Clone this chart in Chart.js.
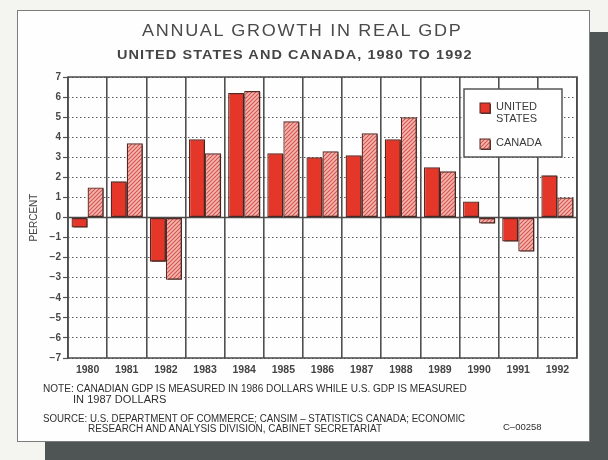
<!DOCTYPE html>
<html>
<head>
<meta charset="utf-8">
<script src="https://cdn.jsdelivr.net/npm/chart.js@4.4.1/dist/chart.umd.min.js"></script>
<style>
  html, body { margin: 0; padding: 0; background: #f4f4f1; }
  #wrap { position: relative; width: 608px; height: 460px; overflow: hidden;
          font-family: "Liberation Sans", Arial, sans-serif; }
  .shadow-r { position: absolute; left: 589px; top: 32px; width: 19px; height: 428px; background: #4f5554; }
  .shadow-b { position: absolute; left: 45px; top: 441px; width: 563px; height: 19px; background: #4f5554; }
  .paper { position: absolute; left: 17px; top: 10px; width: 571px; height: 430px;
           background: #fefefe; border: 1px solid #7c7c7c; }
  canvas { position: absolute; left: 0; top: 0; }
  .t { position: absolute; white-space: nowrap; color: #333; line-height: 1;
       transform-origin: 0 0; }
  .title { font-size: 16px; letter-spacing: 1.5px; color: #4a4a4a; }
  .sub { font-size: 13.5px; font-weight: bold; letter-spacing: 1px; color: #454545; }
  .note { font-size: 10px; color: #2e2e2e; }
</style>
</head>
<body>
<div id="wrap">
  <div class="shadow-r"></div>
  <div class="shadow-b"></div>
  <div class="paper"></div>
  <canvas id="c" width="608" height="460"></canvas>

  <div class="t title" data-x="142" data-y="22.5" data-w="320">ANNUAL GROWTH IN REAL GDP</div>
  <div class="t sub" data-x="117" data-y="48" data-w="356">UNITED STATES AND CANADA, 1980 TO 1992</div>

  <div class="t note" data-x="43" data-y="383.5" data-w="424">NOTE: CANADIAN GDP IS MEASURED IN 1986 DOLLARS WHILE U.S. GDP IS MEASURED</div>
  <div class="t note" data-x="73" data-y="394.5" data-w="94">IN 1987 DOLLARS</div>
  <div class="t note" data-x="43" data-y="413.5" data-w="422">SOURCE: U.S. DEPARTMENT OF COMMERCE; CANSIM – STATISTICS CANADA; ECONOMIC</div>
  <div class="t note" data-x="88" data-y="423.5" data-w="294">RESEARCH AND ANALYSIS DIVISION, CABINET SECRETARIAT</div>
  <div class="t note" data-x="503" data-y="423" data-w="39" style="font-size:9px">C–00258</div>
</div>

<script>
// Annual real GDP growth, percent
const years = ['1980', '1981', '1982', '1983', '1984', '1985', '1986',
               '1987', '1988', '1989', '1990', '1991', '1992'];
const usGrowth     = [-0.5, 1.8, -2.2, 3.9, 6.2, 3.2, 3.0, 3.1, 3.9, 2.5, 0.8, -1.2, 2.1];
const canadaGrowth = [ 1.5, 3.7, -3.1, 3.2, 6.3, 4.8, 3.3, 4.2, 5.0, 2.3, -0.3, -1.7, 1.0];
const seriesNames  = [['UNITED', 'STATES'], ['CANADA']];
const yMin = -7, yMax = 7, yStep = 1;

// place the text blocks and squeeze each one to its set width
document.querySelectorAll('.t').forEach(el => {
  el.style.left = el.dataset.x + 'px';
  el.style.top = el.dataset.y + 'px';
  const w = +el.dataset.w;
  el.style.transform = 'scaleX(' + (w / el.offsetWidth) + ')';
});

const canvas = document.getElementById('c');
const ctx = canvas.getContext('2d');

// pink fill with red diagonal hatching
function hatchPattern() {
  const p = document.createElement('canvas');
  p.width = 4; p.height = 4;
  const g = p.getContext('2d');
  g.fillStyle = '#f3b7b2';
  g.fillRect(0, 0, 4, 4);
  g.strokeStyle = '#d8524c';
  g.lineWidth = 1.1;
  g.beginPath();
  g.moveTo(0, 4); g.lineTo(4, 0);
  g.moveTo(-1, 1); g.lineTo(1, -1);
  g.moveTo(3, 5); g.lineTo(5, 3);
  g.stroke();
  return ctx.createPattern(p, 'repeat');
}

const usRed = '#e5362a';
const edge = '#552823';
const canadaFill = hatchPattern();
const tickFont = { family: '"Liberation Sans", Arial, sans-serif', size: 10, weight: 'bold' };

// drop shadow to the lower right of every bar
const barShadow = {
  id: 'barShadow',
  beforeDatasetDraw(chart) {
    const c = chart.ctx;
    c.save();
    c.shadowColor = 'rgba(70,38,32,0.9)';
    c.shadowOffsetX = 2;
    c.shadowOffsetY = 1;
    c.shadowBlur = 0;
  },
  afterDatasetDraw(chart) { chart.ctx.restore(); }
};

// zero line, plot frame and the boxed legend
const frame = {
  id: 'frame',
  beforeDatasetsDraw(chart) {
    const c = chart.ctx, a = chart.chartArea, y0 = chart.scales.y.getPixelForValue(0);
    c.save();
    c.strokeStyle = '#4a4a4a';
    c.lineWidth = 1.5;
    c.beginPath(); c.moveTo(a.left, y0); c.lineTo(a.right, y0); c.stroke();
    c.restore();
  },
  afterDatasetsDraw(chart) {
    const c = chart.ctx, a = chart.chartArea;
    c.save();
    c.strokeStyle = '#4a4a4a';
    c.lineWidth = 1.5;
    c.strokeRect(a.left, a.top, a.right - a.left, a.bottom - a.top);
    c.restore();
  },
  afterDraw(chart) {
    const c = chart.ctx, a = chart.chartArea;
    const bx = a.right - 113, by = a.top + 12, bw = 98, bh = 68;
    c.save();
    c.fillStyle = '#ffffff';
    c.fillRect(bx, by, bw, bh);
    c.strokeStyle = '#555';
    c.lineWidth = 1.5;
    c.strokeRect(bx, by, bw, bh);
    const rows = [by + 14, by + 50];
    chart.data.datasets.forEach((ds, i) => {
      const sy = rows[i];
      c.save();
      c.shadowColor = 'rgba(70,38,32,0.9)';
      c.shadowOffsetX = 1; c.shadowOffsetY = 1;
      c.fillStyle = ds.backgroundColor;
      c.fillRect(bx + 16, sy, 10, 10);
      c.restore();
      c.strokeStyle = edge; c.lineWidth = 1;
      c.strokeRect(bx + 16, sy, 10, 10);
      c.fillStyle = '#3a3a3a';
      c.font = '11px "Liberation Sans", Arial, sans-serif';
      c.textBaseline = 'middle';
      const lines = seriesNames[i];
      lines.forEach((t, k) => c.fillText(t, bx + 32, sy + 4 + k * 12));
    });
    c.restore();
  }
};

new Chart(ctx, {
  type: 'bar',
  data: {
    labels: years,
    datasets: [
      { label: 'UNITED STATES', data: usGrowth, backgroundColor: usRed,
        borderColor: edge, borderWidth: 1.3, borderSkipped: false },
      { label: 'CANADA', data: canadaGrowth, backgroundColor: canadaFill,
        borderColor: edge, borderWidth: 1.3, borderSkipped: false }
    ]
  },
  options: {
    responsive: false,
    animation: false,
    events: [],
    layout: { padding: { left: 0, right: 31, top: 77, bottom: 0 } },
    datasets: { bar: { categoryPercentage: 0.82, barPercentage: 1.0 } },
    plugins: { legend: { display: false }, title: { display: false }, tooltip: { enabled: false } },
    scales: {
      x: {
        grid: { color: '#505050', lineWidth: 1.6, drawTicks: false, offset: true },
        border: { display: false },
        ticks: { color: '#444', padding: 6, font: { ...tickFont, size: 10.5 } },
        afterFit(s) { s.height = 102; }
      },
      y: {
        min: yMin, max: yMax,
        grid: { color: '#5c5c5c', lineWidth: 1, tickLength: 5, tickColor: '#555', tickWidth: 1.2 },
        border: { display: false, dash: [1.5, 2.5] },
        ticks: {
          stepSize: yStep, padding: 2, color: '#484848', font: tickFont,
          callback: v => (v < 0 ? '\u2212' + Math.abs(v) : String(v))
        },
        title: { display: true, text: 'PERCENT', color: '#444', padding: { top: 28, bottom: 0 },
                 font: { family: '"Liberation Sans", Arial, sans-serif', size: 10 } },
        afterFit(s) { s.width = 68; }
      }
    }
  },
  plugins: [barShadow, frame]
});
</script>
</body>
</html>
